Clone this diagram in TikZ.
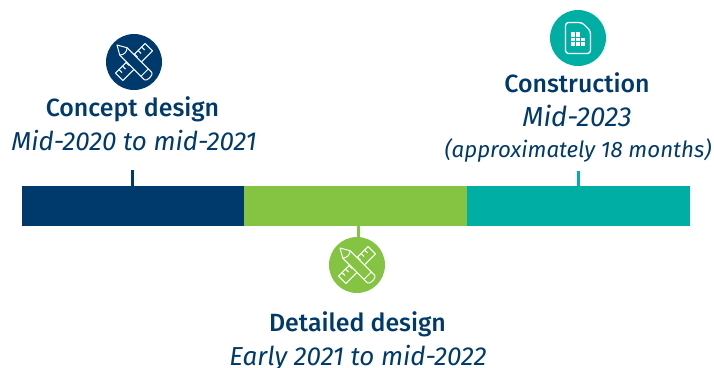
\documentclass[tikz,border=0pt]{standalone}
\usepackage{fontspec}
\setmainfont{Fira Sans}
\newfontfamily\headf{Fira Sans Medium}
\definecolor{navy}{HTML}{003A6C}
\definecolor{leaf}{HTML}{85C442}
\definecolor{teal}{HTML}{00AEA4}
\tikzset{
  x=1pt,y=-1pt,
  barpart/.style={draw=none,minimum height=40pt,inner sep=0pt,outer sep=0pt},
  disc/.style={circle,minimum size=56pt,inner sep=0pt,outer sep=0pt},
  head/.style={text=navy,inner sep=0pt,font=\headf\fontsize{24.9}{25}\selectfont},
  sub/.style={text=navy,inner sep=0pt,font=\itshape\fontsize{26}{26}\selectfont},
  link/.style={line width=3pt},
  pics/tools/.style={code={
    \begin{scope}[white,line width=1pt,line join=round]
      % ruler
      \begin{scope}[rotate=45]
        \draw[fill=#1] (-21,-5.2) rectangle (21,5.2);
        \foreach \u in {-16,-11,-6,6,11,16}{\draw (\u,-5.2) -- (\u,-1);}
      \end{scope}
      % pencil
      \begin{scope}[rotate=-45]
        \draw[fill=#1] (-24,0) -- (-15,-5.2) -- (20,-5.2) .. controls (23,-5.2) and (23,5.2) .. (20,5.2) -- (-15,5.2) -- cycle;
        \draw (15,-5.2) -- (15,5.2);
        \draw (-15,-5.2) .. controls (-12,-2) and (-12,2) .. (-15,5.2);
      \end{scope}
    \end{scope}
  }},
  pics/sheet/.style={code={
    \begin{scope}[white,line join=round]
      \draw[line width=1.3pt,rounded corners=3pt] (-12.5,-15.5) -- (4,-15.5) -- (12.5,-7) -- (12.5,15.5) -- (-12.5,15.5) -- cycle;
      \fill (-7,-6) rectangle (3,-1);
      \fill (-7,-1) rectangle (7,8);
      \foreach \u in {-2.3,2.3}{\draw[#1,line width=.7pt] (\u,-6) -- (\u,8);}
      \foreach \v in {-1,3.5}{\draw[#1,line width=.7pt] (-7,\v) -- (7,\v);}
    \end{scope}
  }},
}
\begin{document}
\begin{tikzpicture}
\useasboundingbox (0,0) rectangle (714,367);
\node[barpart,fill=navy,minimum width=222pt] (barA) at (133,206) {};
\node[barpart,fill=leaf,minimum width=223pt] (barB) at (355.5,206) {};
\node[barpart,fill=teal,minimum width=223pt] (barC) at (578.5,206) {};

\coordinate (tickA) at (132.5,170);
\coordinate (tickC) at (578,171);
\draw[link,navy] (tickA) -- (tickA |- barA.north);
\draw[link,teal] (tickC) -- (tickC |- barC.north);

\node[disc,fill=navy] (iconA) at (134,62) {};
\pic at (iconA.center) {tools=navy};
\node[disc,fill=teal] (iconC) at (578,38) {};
\pic at (iconC.center) {sheet=teal};
\node[disc,fill=leaf] (iconB) at (357,265) {};
\pic at (iconB.center) {tools=leaf};
\coordinate (tickB) at (358,240);
\draw[link,leaf] (tickB) -- (tickB |- barB.south);

\node[head,anchor=base] (titleA) at (132.5,116) {Concept design};
\node[sub,anchor=base] (subA) at (134,150) {Mid-2020 to mid-2021};
\node[head,anchor=base] (titleC) at (577,92) {Construction};
\node[sub,anchor=base,font=\itshape\fontsize{27.5}{27.5}\selectfont] (subC) at (577,126.5) {Mid-2023};
\node[sub,anchor=base,font=\itshape\fontsize{22.3}{22.3}\selectfont] (noteC) at (578,157) {(approximately 18 months)};
\node[head,anchor=base] (titleB) at (357.5,331) {Detailed design};
\node[sub,anchor=base] (subB) at (358,365) {Early 2021 to mid-2022};
\end{tikzpicture}
\end{document}
